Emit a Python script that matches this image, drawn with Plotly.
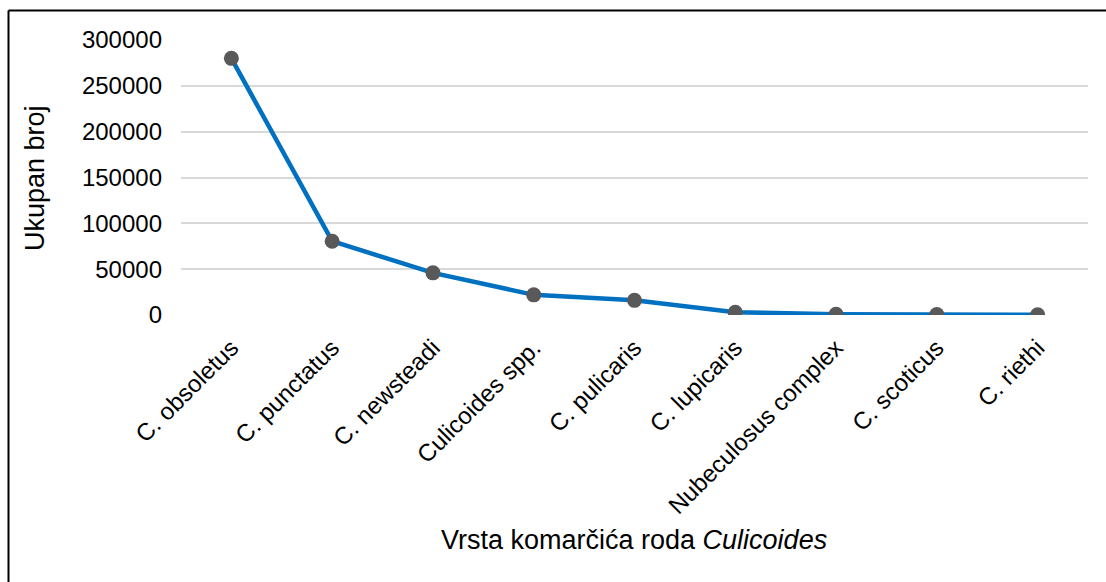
import plotly.graph_objects as go

# Culicoides species and total counts
species = [
    "C. obsoletus",
    "C. punctatus",
    "C. newsteadi",
    "Culicoides spp.",
    "C. pulicaris",
    "C. lupicaris",
    "Nubeculosus complex",
    "C. scoticus",
    "C. riethi",
]
counts = [280000, 80500, 46000, 22000, 16000, 3000, 900, 500, 250]

y_ticks = [0, 50000, 100000, 150000, 200000, 250000, 300000]

W, H = 1106, 582
ML, MR, MT, MB = 181, 18, 40, 267
pw, ph = W - ML - MR, H - MT - MB

def px_x(px):
    return (px - ML) / pw

def px_y(py):
    return (H - MB - py) / ph

fig = go.Figure()
fig.add_trace(go.Scatter(
    x=species,
    y=counts,
    mode="lines+markers",
    line=dict(color="#0070C0", width=4.5),
    marker=dict(color="#595959", size=15, line=dict(width=0)),
    showlegend=False,
))

font_family = "Liberation Sans, Arial, sans-serif"

fig.update_layout(
    width=W,
    height=H,
    margin=dict(l=ML, r=MR, t=MT, b=MB, autoexpand=False),
    paper_bgcolor="white",
    plot_bgcolor="white",
    font=dict(family=font_family, color="#000000", size=24),
    xaxis=dict(
        type="category",
        tickangle=-45,
        showgrid=False,
        showline=False,
        zeroline=False,
        ticks="",
        ticklabelstandoff=13,
        tickfont=dict(size=24, color="#000000"),
        automargin=False,
        range=[-0.5, len(species) - 0.5],
    ),
    yaxis=dict(
        range=[0, 300000],
        tickvals=y_ticks,
        ticktext=[str(v) for v in y_ticks],
        showgrid=True,
        gridcolor="#D9D9D9",
        gridwidth=1.5,
        zeroline=False,
        showline=False,
        ticks="",
        ticklabelstandoff=18,
        tickfont=dict(size=24, color="#000000"),
        automargin=False,
    ),
    annotations=[
        dict(
            text="Vrsta komarčića roda <i>Culicoides</i>",
            xref="paper", yref="paper",
            x=px_x(634), y=px_y(540),
            xanchor="center", yanchor="middle",
            showarrow=False,
            font=dict(size=27, color="#000000", family=font_family),
        ),
        dict(
            text="Ukupan broj",
            xref="paper", yref="paper",
            x=px_x(35), y=px_y(178),
            xanchor="center", yanchor="middle",
            textangle=-90,
            showarrow=False,
            font=dict(size=27, color="#000000", family=font_family),
        ),
    ],
    shapes=[
        # outer frame (top and left edges)
        dict(type="line", xref="paper", yref="paper",
             x0=px_x(8.5), x1=px_x(W + 20), y0=px_y(10.5), y1=px_y(10.5),
             line=dict(color="#000000", width=2)),
        dict(type="line", xref="paper", yref="paper",
             x0=px_x(8.5), x1=px_x(8.5), y0=px_y(10.5), y1=px_y(H + 20),
             line=dict(color="#000000", width=2)),
    ],
)

fig.write_html("out.html")
